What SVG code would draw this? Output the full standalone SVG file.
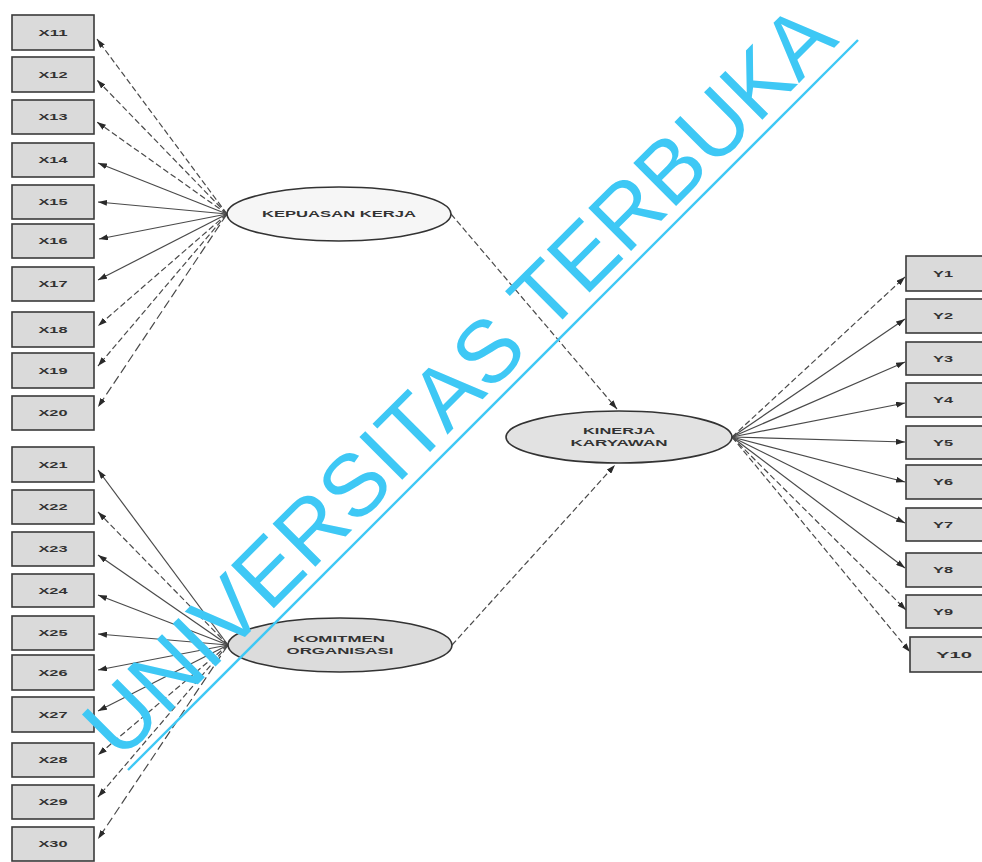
<svg xmlns="http://www.w3.org/2000/svg" width="982" height="862" viewBox="0 0 982 862">
<style>
.box{fill:#dadada;stroke:#3a3a3a;stroke-width:1.6}
.lbl{font-family:"Liberation Sans",Arial,sans-serif;font-weight:bold;font-size:9.5px;fill:#333;text-anchor:middle}
.ell{stroke:#333;stroke-width:1.6}
.c{stroke:#4a4a4a;stroke-width:1.2;fill:none;marker-end:url(#ah)}
.d{stroke-dasharray:6 3}
.wm{font-family:"Liberation Sans",Arial,sans-serif;font-size:88px;fill:#3ec8f5}
</style>
<defs>
<marker id="ah" markerUnits="userSpaceOnUse" markerWidth="9" markerHeight="6" refX="9" refY="3" orient="auto">
<path d="M0,0 L9,3 L0,6 z" fill="#2a2a2a"/>
</marker>
</defs>
<rect width="982" height="862" fill="#fff"/>

<g id="connectors">
<path class="c d" d="M227,214 L97,39"/>
<path class="c d" d="M227,214 L97,80"/>
<path class="c d" d="M227,214 L97,122"/>
<path class="c" d="M227,214 L98,163"/>
<path class="c" d="M227,214 L98,202"/>
<path class="c" d="M227,214 L99,239"/>
<path class="c" d="M227,214 L98,280"/>
<path class="c d" d="M227,214 L98,326"/>
<path class="c d" d="M227,214 L98,366"/>
<path class="c" style="stroke-dasharray:9 4" d="M227,214 L98,407"/>

<path class="c" d="M228,645 L98,470"/>
<path class="c d" d="M228,645 L98,512"/>
<path class="c" d="M228,645 L98,555"/>
<path class="c" d="M228,645 L98,595"/>
<path class="c" d="M228,645 L98,634"/>
<path class="c" d="M228,645 L98,670"/>
<path class="c" d="M228,645 L98,711"/>
<path class="c d" d="M228,645 L98,755"/>
<path class="c d" d="M228,645 L98,797"/>
<path class="c" style="stroke-dasharray:9 4" d="M228,645 L98,839"/>

<path class="c d" d="M732,437 L905,277"/>
<path class="c" d="M732,437 L905,319"/>
<path class="c" d="M732,437 L905,362"/>
<path class="c" d="M732,437 L905,403"/>
<path class="c" d="M732,437 L905,442"/>
<path class="c" d="M732,437 L905,482"/>
<path class="c" d="M732,437 L905,523"/>
<path class="c" d="M732,437 L905,568"/>
<path class="c d" d="M732,437 L906,610"/>
<path class="c d" d="M732,437 L910,652"/>

<path class="c d" d="M451,214 L617,409"/>
<path class="c d" d="M452,645 L615,465"/>
</g>

<g id="X11"><rect class="box" x="12" y="15" width="82" height="35"/><text class="lbl" x="53" y="36" textLength="29" lengthAdjust="spacingAndGlyphs">X11</text></g>
<g id="X12"><rect class="box" x="12" y="57" width="82" height="35"/><text class="lbl" x="53" y="78" textLength="29" lengthAdjust="spacingAndGlyphs">X12</text></g>
<g id="X13"><rect class="box" x="12" y="100" width="82" height="34"/><text class="lbl" x="53" y="120" textLength="29" lengthAdjust="spacingAndGlyphs">X13</text></g>
<g id="X14"><rect class="box" x="12" y="143" width="82" height="34"/><text class="lbl" x="53" y="163" textLength="29" lengthAdjust="spacingAndGlyphs">X14</text></g>
<g id="X15"><rect class="box" x="12" y="185" width="82" height="34"/><text class="lbl" x="53" y="205" textLength="29" lengthAdjust="spacingAndGlyphs">X15</text></g>
<g id="X16"><rect class="box" x="12" y="224" width="82" height="34"/><text class="lbl" x="53" y="244" textLength="29" lengthAdjust="spacingAndGlyphs">X16</text></g>
<g id="X17"><rect class="box" x="12" y="267" width="82" height="34"/><text class="lbl" x="53" y="287" textLength="29" lengthAdjust="spacingAndGlyphs">X17</text></g>
<g id="X18"><rect class="box" x="12" y="312" width="82" height="35"/><text class="lbl" x="53" y="333" textLength="29" lengthAdjust="spacingAndGlyphs">X18</text></g>
<g id="X19"><rect class="box" x="12" y="353" width="82" height="35"/><text class="lbl" x="53" y="374" textLength="29" lengthAdjust="spacingAndGlyphs">X19</text></g>
<g id="X20"><rect class="box" x="12" y="396" width="82" height="34"/><text class="lbl" x="53" y="416" textLength="29" lengthAdjust="spacingAndGlyphs">X20</text></g>

<g id="X21"><rect class="box" x="12" y="447" width="82" height="35"/><text class="lbl" x="53" y="468" textLength="29" lengthAdjust="spacingAndGlyphs">X21</text></g>
<g id="X22"><rect class="box" x="12" y="490" width="82" height="34"/><text class="lbl" x="53" y="510" textLength="29" lengthAdjust="spacingAndGlyphs">X22</text></g>
<g id="X23"><rect class="box" x="12" y="532" width="82" height="34"/><text class="lbl" x="53" y="552" textLength="29" lengthAdjust="spacingAndGlyphs">X23</text></g>
<g id="X24"><rect class="box" x="12" y="574" width="82" height="33"/><text class="lbl" x="53" y="594" textLength="29" lengthAdjust="spacingAndGlyphs">X24</text></g>
<g id="X25"><rect class="box" x="12" y="616" width="82" height="34"/><text class="lbl" x="53" y="636" textLength="29" lengthAdjust="spacingAndGlyphs">X25</text></g>
<g id="X26"><rect class="box" x="12" y="655" width="82" height="35"/><text class="lbl" x="53" y="676" textLength="29" lengthAdjust="spacingAndGlyphs">X26</text></g>
<g id="X27"><rect class="box" x="12" y="697" width="82" height="35"/><text class="lbl" x="53" y="718" textLength="29" lengthAdjust="spacingAndGlyphs">X27</text></g>
<g id="X28"><rect class="box" x="12" y="743" width="82" height="34"/><text class="lbl" x="53" y="763" textLength="29" lengthAdjust="spacingAndGlyphs">X28</text></g>
<g id="X29"><rect class="box" x="12" y="785" width="82" height="34"/><text class="lbl" x="53" y="805" textLength="29" lengthAdjust="spacingAndGlyphs">X29</text></g>
<g id="X30"><rect class="box" x="12" y="827" width="82" height="34"/><text class="lbl" x="53" y="847" textLength="29" lengthAdjust="spacingAndGlyphs">X30</text></g>

<g id="Y1"><rect class="box" x="906" y="256" width="80" height="35"/><text class="lbl" x="943" y="277" textLength="20" lengthAdjust="spacingAndGlyphs">Y1</text></g>
<g id="Y2"><rect class="box" x="906" y="299" width="80" height="34"/><text class="lbl" x="943" y="319" textLength="20" lengthAdjust="spacingAndGlyphs">Y2</text></g>
<g id="Y3"><rect class="box" x="906" y="342" width="80" height="33"/><text class="lbl" x="943" y="362" textLength="20" lengthAdjust="spacingAndGlyphs">Y3</text></g>
<g id="Y4"><rect class="box" x="906" y="383" width="80" height="34"/><text class="lbl" x="943" y="403" textLength="20" lengthAdjust="spacingAndGlyphs">Y4</text></g>
<g id="Y5"><rect class="box" x="906" y="426" width="80" height="33"/><text class="lbl" x="943" y="446" textLength="20" lengthAdjust="spacingAndGlyphs">Y5</text></g>
<g id="Y6"><rect class="box" x="906" y="465" width="80" height="34"/><text class="lbl" x="943" y="485" textLength="20" lengthAdjust="spacingAndGlyphs">Y6</text></g>
<g id="Y7"><rect class="box" x="906" y="508" width="80" height="33"/><text class="lbl" x="943" y="528" textLength="20" lengthAdjust="spacingAndGlyphs">Y7</text></g>
<g id="Y8"><rect class="box" x="906" y="553" width="80" height="34"/><text class="lbl" x="943" y="573" textLength="20" lengthAdjust="spacingAndGlyphs">Y8</text></g>
<g id="Y9"><rect class="box" x="906" y="595" width="80" height="33"/><text class="lbl" x="943" y="615" textLength="20" lengthAdjust="spacingAndGlyphs">Y9</text></g>
<g id="Y10"><rect class="box" x="910" y="637" width="80" height="35"/><text class="lbl" x="954" y="658" textLength="36" lengthAdjust="spacingAndGlyphs">Y10</text></g>

<g id="KEPUASAN_KERJA"><ellipse class="ell" cx="339" cy="214" rx="112" ry="27" fill="#f6f6f6"/><text class="lbl" x="339" y="217" textLength="154" lengthAdjust="spacingAndGlyphs">KEPUASAN KERJA</text></g>
<g id="KINERJA_KARYAWAN"><ellipse class="ell" cx="619" cy="437" rx="113" ry="26" fill="#e2e2e2"/><text class="lbl" x="619" y="434" textLength="72" lengthAdjust="spacingAndGlyphs">KINERJA</text><text class="lbl" x="619" y="446" textLength="97" lengthAdjust="spacingAndGlyphs">KARYAWAN</text></g>
<g id="KOMITMEN_ORGANISASI"><ellipse class="ell" cx="340" cy="645" rx="112" ry="27" fill="#dcdcdc"/><text class="lbl" x="339" y="642" textLength="92" lengthAdjust="spacingAndGlyphs">KOMITMEN</text><text class="lbl" x="340" y="654" textLength="107" lengthAdjust="spacingAndGlyphs">ORGANISASI</text></g>

<g id="watermark">
<text class="wm" transform="translate(120,762) rotate(-45)">UNIVERSITAS TERBUKA</text>
<line x1="128" y1="770" x2="858" y2="40" stroke="#3ec8f5" stroke-width="2.4"/>
</g>
</svg>
